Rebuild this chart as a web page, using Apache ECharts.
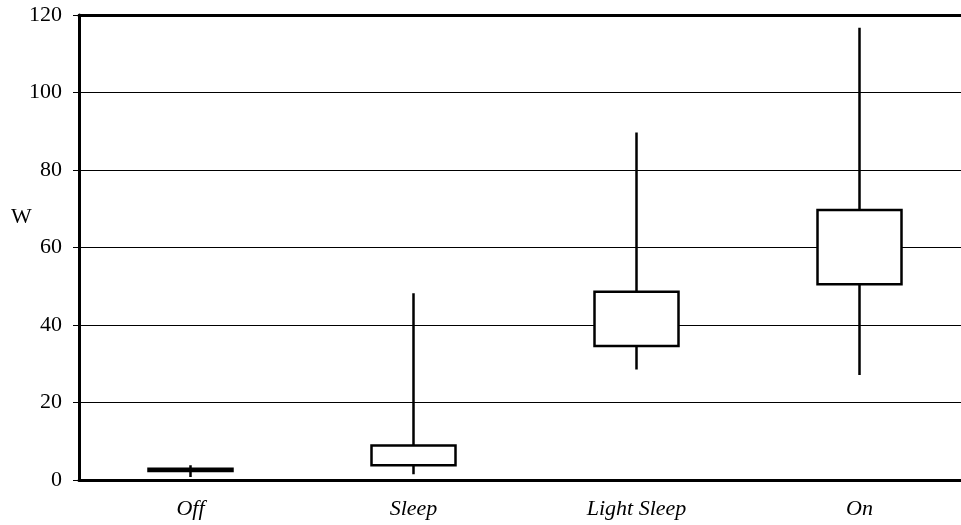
<!DOCTYPE html>
<html>
<head>
<meta charset="utf-8">
<script src="https://cdn.jsdelivr.net/npm/echarts@6/dist/echarts.min.js"></script>
<style>html,body{margin:0;padding:0;background:#fff;overflow:hidden;width:961px;height:525px}#c{width:971px;height:525px}</style>
</head>
<body>
<div id="c"></div>
<script>
var categories = ['Off', 'Sleep', 'Light Sleep', 'On'];
var whiskerLow = [0.8, 1.5, 28.5, 27.1];
var boxLow = [2.3, 3.8, 34.6, 50.5];
var boxHigh = [2.9, 8.9, 48.6, 69.7];
var whiskerHigh = [3.8, 48.2, 89.7, 116.7];
var yTicks = [0, 20, 40, 60, 80, 100, 120];
var yAxisName = 'W';

var candleData = categories.map(function (c, i) {
  return [boxLow[i], boxHigh[i], whiskerLow[i], whiskerHigh[i]];
});

var chart = echarts.init(document.getElementById('c'), null, {renderer: 'canvas'});
var font = '"Liberation Serif", "Times New Roman", serif';
chart.setOption({
  animation: false,
  backgroundColor: '#fff',
  grid: {left: 79, top: 15, bottom: 45, right: 0},
  xAxis: [{
    type: 'category',
    data: categories,
    position: 'bottom',
    axisLine: {show: true, lineStyle: {color: '#000', width: 3}},
    axisTick: {show: false},
    axisLabel: {fontFamily: font, fontStyle: 'italic', fontSize: 22, color: '#000', margin: 18}
  }, {
    type: 'category',
    data: categories,
    position: 'top',
    axisLine: {show: true, lineStyle: {color: '#000', width: 3}},
    axisTick: {show: false},
    axisLabel: {show: false}
  }],
  yAxis: {
    type: 'value',
    min: yTicks[0],
    max: yTicks[yTicks.length - 1],
    interval: yTicks[1] - yTicks[0],
    axisLine: {show: true, lineStyle: {color: '#000', width: 3}},
    axisTick: {show: true, length: 6, lineStyle: {color: '#000', width: 1}},
    axisLabel: {fontFamily: font, fontSize: 22, color: '#000', margin: 17},
    splitLine: {show: true, lineStyle: {color: '#000', width: 1}}
  },
  graphic: [{
    type: 'text',
    left: 11,
    top: 206,
    style: {text: yAxisName, font: '22px ' + font, fill: '#000'}
  }],
  series: [{
    type: 'candlestick',
    data: candleData,
    barWidth: 85,
    itemStyle: {
      color: '#fff', color0: '#fff',
      borderColor: '#000', borderColor0: '#000', borderColorDoji: '#000',
      borderWidth: 2.5
    },
    emphasis: {disabled: true}
  }]
});
</script>
</body>
</html>
